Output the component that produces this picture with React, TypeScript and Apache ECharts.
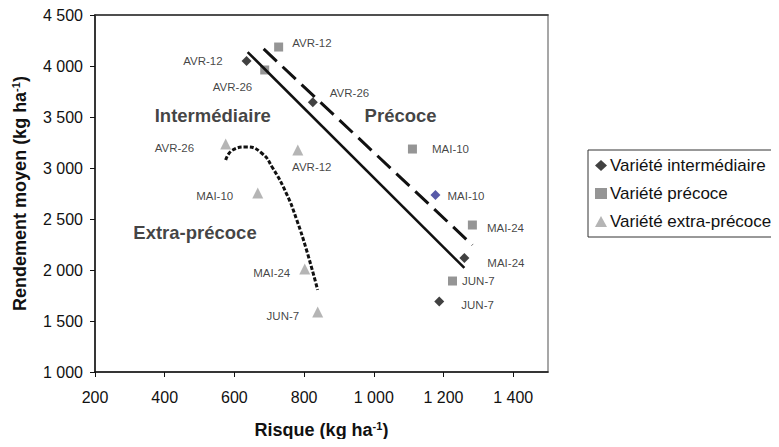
import React, { useEffect, useRef } from "react";
import * as echarts from "echarts";

// ---- Data ----
const dateLabels = ["AVR-12", "AVR-26", "MAI-10", "MAI-24", "JUN-7"];

const intermX = [635, 825, 1177, 1260, 1188];
const intermY = [4050, 3645, 2735, 2118, 1690];

const precoceX = [727, 687, 1111, 1283, 1226];
const precoceY = [4186, 3961, 3186, 2441, 1892];

const extraX = [782, 575, 667, 802, 839];
const extraY = [3176, 3235, 2755, 2010, 1588];
const extraLabels = ["AVR-12", "AVR-26", "MAI-10", "MAI-24", "JUN-7"];

// trend lines
const intermLineX = [638, 1260];
const intermLineY = [4137, 2020];
const precoceLineX = [684, 1283];
const precoceLineY = [4167, 2245];
const extraCurveX = [575, 595, 635, 678, 710, 750, 779, 807, 839];
const extraCurveY = [3078, 3176, 3206, 3147, 3000, 2745, 2490, 2196, 1804];

// region annotations
const regionNames = ["Intermédiaire", "Précoce", "Extra-précoce"];
const regionX = [538, 1077, 487];
const regionY = [3510, 3510, 2363];

const xTicks = { min: 200, max: 1500, interval: 200 };
const yTicks = { min: 1000, max: 4500, interval: 500 };

const seriesNames = ["Variété intermédiaire", "Variété précoce", "Variété extra-précoce"];

// ---- label placements (style) ----
type Place = { position: string; distance: number; offset: [number, number] };
const intermPlace: Place[] = [
  { position: "left", distance: 19, offset: [0, 0] },
  { position: "right", distance: 12, offset: [0, -9] },
  { position: "right", distance: 7, offset: [0, 1] },
  { position: "right", distance: 18, offset: [0, 5] },
  { position: "right", distance: 17, offset: [0, 3] },
];
const precocePlace: Place[] = [
  { position: "right", distance: 9, offset: [0, -4] },
  { position: "left", distance: 8, offset: [0, 17] },
  { position: "right", distance: 15, offset: [0, 0] },
  { position: "right", distance: 10, offset: [0, 3] },
  { position: "right", distance: 5, offset: [0, 0] },
];
const extraPlace: Place[] = [
  { position: "bottom", distance: 5, offset: [14, 0] },
  { position: "left", distance: 26, offset: [0, 4] },
  { position: "left", distance: 19, offset: [0, 3] },
  { position: "left", distance: 9, offset: [0, 4] },
  { position: "left", distance: 13, offset: [0, 4] },
];

const FONT = "Arial, 'Liberation Sans', Helvetica, sans-serif";
const TXT = "#111";

const fmtNum = (v: number) => {
  const s = String(Math.round(v));
  return s.replace(/\B(?=(\d{3})+(?!\d))/g, " ");
};

function buildPoints(xs: number[], ys: number[], names: string[], places: Place[], special?: Record<number, string>) {
  return xs.map((x, i) => {
    const item: any = {
      value: [x, ys[i]],
      name: names[i],
      label: {
        show: true,
        position: places[i].position,
        distance: places[i].distance,
        offset: places[i].offset,
        color: TXT,
      },
    };
    if (special && special[i]) item.itemStyle = { color: special[i] };
    return item;
  });
}

export default function App() {
  const ref = useRef<HTMLDivElement>(null);

  useEffect(() => {
    if (!ref.current) return;
    const chart = echarts.init(ref.current, null, { renderer: "svg" });

    const pointLabel = {
      show: true,
      formatter: (p: any) => p.name,
      fontFamily: FONT,
      fontSize: 11.5,
      color: TXT,
    };

    const axisNameRich = {
      sup: { fontFamily: FONT, fontSize: 11, fontWeight: "bold", color: TXT, verticalAlign: "top", padding: [0, 0, 8, 0] },
    };

    chart.setOption({
      animation: false,
      backgroundColor: "#fff",
      textStyle: { fontFamily: FONT },
      grid: { left: 95, top: 15, width: 453, height: 357, show: true, borderColor: "#8a8a8a", borderWidth: 1.5, backgroundColor: "transparent" },
      legend: {
        orient: "vertical",
        left: 588,
        top: 150,
        data: seriesNames,
        borderColor: "#333",
        borderWidth: 1,
        padding: [7, 40, 7, 7],
        itemGap: 11,
        itemWidth: 12,
        itemHeight: 11,
        textStyle: { fontFamily: FONT, fontSize: 17, color: TXT, padding: [0, 0, 0, -2] },
      },
      xAxis: [
        {
          type: "value",
          min: xTicks.min,
          max: xTicks.max,
          interval: xTicks.interval,
          name: "Risque (kg ha{sup|-1})",
          nameLocation: "middle",
          nameGap: 48,
          nameTextStyle: { fontFamily: FONT, fontSize: 18, fontWeight: "bold", color: TXT, rich: axisNameRich },
          axisLine: { show: true, onZero: false, lineStyle: { color: "#111", width: 1.5 } },
          axisTick: { show: true, inside: false, length: 5, lineStyle: { color: "#111" } },
          axisLabel: { showMaxLabel: false, margin: 17, fontFamily: FONT, fontSize: 16, color: TXT, formatter: (v: number) => fmtNum(v) },
          splitLine: { show: false },
        },
        {
          type: "value",
          position: "top",
          min: xTicks.min,
          max: xTicks.max,
          axisLine: { show: true, onZero: false, lineStyle: { color: "#333", width: 1.5 } },
          axisTick: { show: false },
          axisLabel: { show: false },
          splitLine: { show: false },
        },
      ],
      yAxis: {
        type: "value",
        min: yTicks.min,
        max: yTicks.max,
        interval: yTicks.interval,
        name: "Rendement moyen (kg ha{sup|-1})",
        nameLocation: "middle",
        nameGap: 66,
        nameTextStyle: { fontFamily: FONT, fontSize: 18, fontWeight: "bold", color: TXT, rich: axisNameRich },
        axisLine: { show: true, onZero: false, lineStyle: { color: "#111", width: 1.5 } },
        axisTick: { show: true, inside: false, length: 5, lineStyle: { color: "#111" } },
        axisLabel: { margin: 12, fontFamily: FONT, fontSize: 16, color: TXT, formatter: (v: number) => fmtNum(v) },
        splitLine: { show: false },
      },
      series: [
        {
          name: "trend-interm",
          type: "line",
          data: intermLineX.map((x, i) => [x, intermLineY[i]]),
          showSymbol: false,
          silent: true,
          lineStyle: { color: "#111", width: 2.5 },
        },
        {
          name: "trend-precoce",
          type: "line",
          data: precoceLineX.map((x, i) => [x, precoceLineY[i]]),
          showSymbol: false,
          silent: true,
          lineStyle: { color: "#111", width: 3, type: [18, 8] },
        },
        {
          name: "trend-extra",
          type: "line",
          data: extraCurveX.map((x, i) => [x, extraCurveY[i]]),
          showSymbol: false,
          smooth: true,
          silent: true,
          lineStyle: { color: "#111", width: 3, type: [4, 2] },
        },
        {
          name: seriesNames[0],
          type: "scatter",
          symbol: "diamond",
          symbolSize: 10,
          itemStyle: { color: "#111" },
          label: pointLabel,
          data: buildPoints(intermX, intermY, dateLabels, intermPlace, { 2: "#2E3192" }),
        },
        {
          name: seriesNames[1],
          type: "scatter",
          symbol: "rect",
          symbolSize: 9,
          itemStyle: { color: "#7b7b7b" },
          label: pointLabel,
          data: buildPoints(precoceX, precoceY, dateLabels, precocePlace),
        },
        {
          name: seriesNames[2],
          type: "scatter",
          symbol: "triangle",
          symbolSize: 11,
          itemStyle: { color: "#a3a3a3" },
          label: pointLabel,
          data: buildPoints(extraX, extraY, extraLabels, extraPlace),
        },
        {
          name: "regions",
          type: "scatter",
          symbolSize: 0,
          silent: true,
          label: {
            show: true,
            position: "inside",
            formatter: (p: any) => p.name,
            fontFamily: FONT,
            fontSize: 18.5,
            fontWeight: "bold",
            color: TXT,
            textBorderWidth: 0,
          },
          data: regionNames.map((n, i) => ({ name: n, value: [regionX[i], regionY[i]], label: { color: TXT } })),
        },
      ],
    });

    return () => chart.dispose();
  }, []);

  return <div ref={ref} style={{ width: 779, height: 447, margin: -8 }} />;
}
